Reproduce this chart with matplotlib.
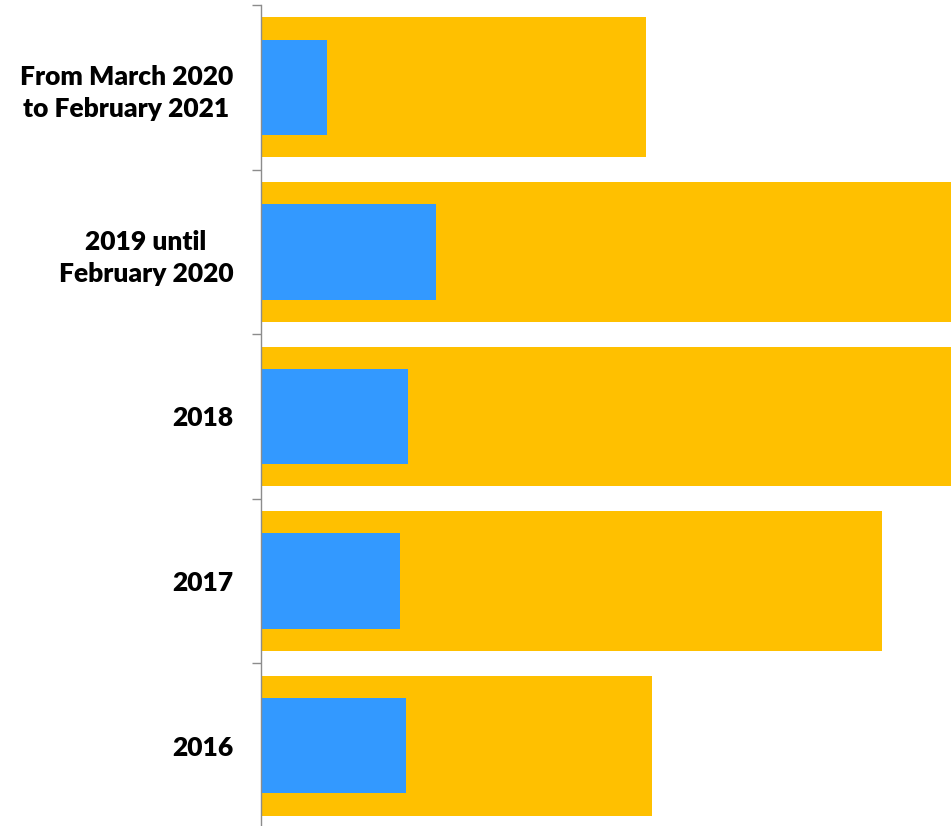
import numpy as np
import matplotlib.pyplot as plt
from matplotlib.ticker import FixedLocator

# 类别（自上而下）
periods = ['From March 2020\nto February 2021', '2019 until\nFebruary 2020',
           '2018', '2017', '2016']
total_vals = [55.8, 105.0, 108.0, 90.0, 56.6]   # 橙色宽条
part_vals = [9.6, 25.4, 21.3, 20.1, 21.0]        # 蓝色窄条

orange = '#FFC000'
blue = '#3399FF'

fig = plt.figure(figsize=(9.51, 8.26), dpi=100)
ax = fig.add_axes([261 / 951, -2 / 826, 1 - 261 / 951, 823 / 826])

y = np.arange(len(periods))[::-1]
ax.barh(y, total_vals, height=0.85, color=orange, zorder=2)
ax.barh(y, part_vals, height=0.58, color=blue, zorder=3)

ax.set_xlim(0, 100)
ax.set_ylim(-0.5, len(periods) - 0.5)

ax.set_yticks(y)
ax.set_yticklabels(periods, fontsize=19, fontweight='heavy', family='Lato',
                   multialignment='center', linespacing=1.4)
ax.yaxis.set_minor_locator(FixedLocator(np.arange(-0.5, len(periods), 1.0)))
ax.tick_params(axis='y', which='major', length=0, pad=20)
ax.tick_params(axis='y', which='minor', length=6.5, color='#8c8c8c', width=1)
ax.set_xticks([])

for s in ['top', 'right', 'bottom']:
    ax.spines[s].set_visible(False)
ax.spines['left'].set_color('#8c8c8c')
ax.spines['left'].set_linewidth(1)
ax.spines['left'].set_zorder(4)

fig.savefig('out.png', dpi=100)
